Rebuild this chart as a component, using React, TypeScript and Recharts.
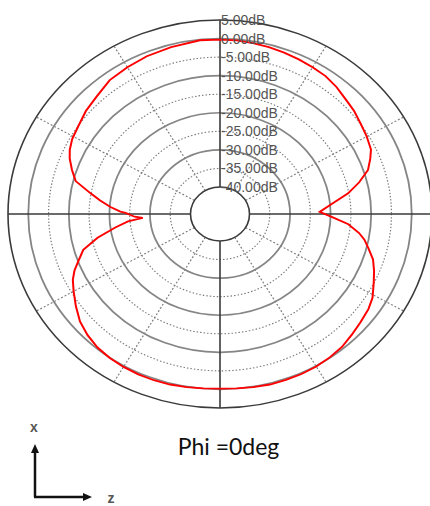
import {
  PolarAngleAxis,
  PolarGrid,
  PolarRadiusAxis,
  Radar,
  RadarChart,
} from "recharts";

// measured pattern, theta = angle from +x (up), clockwise toward +z (right)
const thetaDeg = [
  0, 5, 10, 15, 20, 25, 30, 35, 40, 45, 50, 55, 60, 65, 68, 72, 76, 80, 84, 88.7,
  92, 95, 98.5, 101, 104, 108, 112, 116, 121, 125, 130, 135, 140, 145, 150, 155,
  160, 165, 170, 175, 180, 185, 190, 195, 200, 205, 210, 215, 220, 225, 230, 235,
  240, 244, 247, 250, 254, 258, 262, 265, 266.8, 268, 269.3, 270.7, 271.5, 274,
  277, 280, 284, 288, 292, 295, 299, 304, 310, 316, 323, 330, 337, 345, 354,
];
const gainDb = [
  -0.3, -0.3, -0.5, -0.7, -1.0, -1.3, -1.6, -1.9, -2.6, -3.5, -4.1, -4.9, -5.5,
  -6.2, -7.3, -8.9, -11.9, -15.2, -19.3, -22.7, -19.3, -15.5, -12.6, -11.0, -9.6,
  -7.6, -6.3, -5.1, -3.4, -2.6, -2.0, -1.3, -0.5, -0.1, 0.2, 0.3, 0.3, 0.3, 0.1,
  -0.1, -0.2, -0.1, 0.1, 0.3, 0.4, 0.4, 0.3, 0.1, -0.3, -1.1, -2.2, -3.9, -5.6,
  -6.9, -8.3, -10.1, -12.2, -16.4, -21.2, -24.5, -28.2, -26.2, -25.2, -24.0,
  -22.7, -20.2, -17.5, -14.8, -10.6, -8.9, -7.3, -6.4, -5.6, -5.1, -4.1, -3.4,
  -2.1, -1.6, -1.1, -0.7, -0.2,
];

const dbTicks = [5, 0, -5, -10, -15, -20, -25, -30, -35, -40];
const solidRingsDb = [0, -10, -20, -30];
const dottedRingsDb = [-5, -15, -25, -35];
const axisAngles = [0, 90, 180, 270];
const spokeAngles = [30, 60, 120, 150, 210, 240, 300, 330];
const caption = "Phi =0deg";

const CX = 220;
const CY = 234; // inside the chart svg; the svg sits 20px above the page top
const TOP = -20;
const R_IN = 29.5;
const R_OUT = 212;
const DB_MIN = -40;
const DB_MAX = 5;
const SQUASH = 0.915; // the plot is drawn as an ellipse

const ringR = (db: number) =>
  R_IN + ((db - DB_MIN) / (DB_MAX - DB_MIN)) * (R_OUT - R_IN);

const data = thetaDeg.map((theta, i) => ({ theta, gain: gainDb[i] }));

function DbTick({ x, y, payload }: any) {
  const k = 1 / SQUASH;
  return (
    <text
      x={x + 1}
      y={y}
      transform={`translate(0 ${y * (1 - k)}) scale(1 ${k})`}
      textAnchor="start"
      dominantBaseline="central"
      fontFamily="'Liberation Sans', Arial, sans-serif"
      fontSize={14}
      fill="#555"
    >
      {`${payload.value.toFixed(2)}dB`}
    </text>
  );
}

function AxisIndicator() {
  return (
    <svg
      width={430}
      height={106}
      style={{ position: "absolute", left: 0, top: 400 }}
    >
      <text
        x={228.5}
        y={55}
        textAnchor="middle"
        fontFamily="Lato, 'Noto Sans', sans-serif"
        fontSize={23}
        fill="#111"
      >
        {caption}
      </text>
      <line x1={35} y1={97} x2={35} y2={52} stroke="#111" strokeWidth={2.5} />
      <polygon points="35,44 31,53 39,53" fill="#111" />
      <line x1={34} y1={97} x2={84} y2={97} stroke="#111" strokeWidth={2.5} />
      <polygon points="92,97 83,93 83,101" fill="#111" />
      <text
        x={34}
        y={32}
        textAnchor="middle"
        fontFamily="'Liberation Sans', Arial, sans-serif"
        fontWeight="bold"
        fontSize={14}
        fill="#555"
      >
        x
      </text>
      <text
        x={111}
        y={103}
        textAnchor="middle"
        fontFamily="'Liberation Sans', Arial, sans-serif"
        fontWeight="bold"
        fontSize={14}
        fill="#555"
      >
        z
      </text>
    </svg>
  );
}

export default function App() {
  return (
    <div
      style={{
        position: "absolute",
        left: 0,
        top: 0,
        width: 430,
        height: 506,
        overflow: "hidden",
        background: "#fff",
      }}
    >
      <div
        style={{
          position: "absolute",
          left: 0,
          top: TOP,
          width: 430,
          height: 460,
          transform: `scaleY(${SQUASH})`,
          transformOrigin: `${CX}px ${CY}px`,
        }}
      >
        <RadarChart
          width={430}
          height={460}
          data={data}
          cx={CX}
          cy={CY}
          innerRadius={R_IN}
          outerRadius={R_OUT}
          startAngle={90}
          endAngle={-270}
          margin={{ top: 0, right: 0, bottom: 0, left: 0 }}
        >
          <PolarGrid
            gridType="circle"
            radialLines={false}
            polarRadius={dottedRingsDb.map(ringR)}
            stroke="#7a7a7a"
            strokeWidth={1.2}
            strokeDasharray="1.5 2"
          />
          <PolarGrid
            gridType="circle"
            polarAngles={spokeAngles}
            polarRadius={[]}
            stroke="#7a7a7a"
            strokeWidth={1.2}
            strokeDasharray="2 2"
          />
          <PolarGrid
            gridType="circle"
            radialLines={false}
            polarRadius={solidRingsDb.map(ringR)}
            stroke="#858585"
            strokeWidth={1.8}
          />
          <PolarGrid
            gridType="circle"
            polarAngles={axisAngles}
            polarRadius={[ringR(DB_MIN), ringR(DB_MAX)]}
            stroke="#3a3a3a"
            strokeWidth={1.6}
          />
          <PolarAngleAxis
            dataKey="theta"
            type="number"
            domain={[0, 360]}
            tick={false}
            tickLine={false}
            axisLine={false}
          />
          <Radar
            dataKey="gain"
            stroke="#ff0000"
            strokeWidth={2}
            fill="none"
            fillOpacity={0}
            dot={false}
            isAnimationActive={false}
          />
          <PolarRadiusAxis
            angle={90}
            type="number"
            domain={[DB_MIN, DB_MAX]}
            ticks={dbTicks}
            tick={<DbTick />}
            tickLine={false}
            axisLine={false}
          />
        </RadarChart>
      </div>
      <AxisIndicator />
    </div>
  );
}
